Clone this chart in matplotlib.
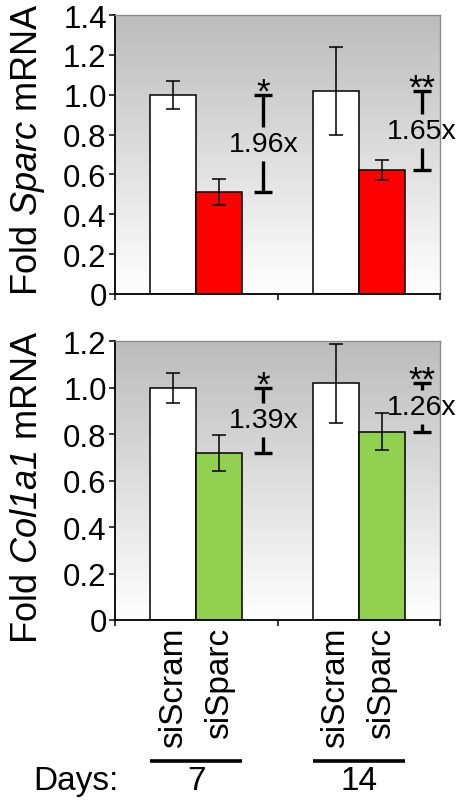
import numpy as np
import matplotlib
matplotlib.use("Agg")
import matplotlib.pyplot as plt
from matplotlib.colors import LinearSegmentedColormap

plt.rcParams["font.family"] = ["Liberation Sans", "DejaVu Sans"]
plt.rcParams["mathtext.fontset"] = "custom"
plt.rcParams["mathtext.rm"] = "Liberation Sans"
plt.rcParams["mathtext.it"] = "Liberation Sans:italic"
# the sans-serif slot holds italic so gene names keep italic digits too
plt.rcParams["mathtext.sf"] = "Liberation Sans:italic"

# Data
days = ["7", "14"]
conditions = ["siScram", "siSparc"]

sparc_scram = [1.00, 1.02]
sparc_scram_err = [0.07, 0.22]
sparc_kd = [0.51, 0.62]
sparc_kd_err = [0.065, 0.05]
sparc_fold = ["1.96x", "1.65x"]
sparc_sig = ["*", "**"]

col_scram = [1.00, 1.02]
col_scram_err = [0.065, 0.17]
col_kd = [0.72, 0.81]
col_kd_err = [0.077, 0.08]
col_fold = ["1.39x", "1.26x"]
col_sig = ["*", "**"]

W, H = 458, 803
DPI = 100
fig = plt.figure(figsize=(W / DPI, H / DPI), dpi=DPI)

ax_left, ax_w = 115 / W, 325 / W
ax1 = fig.add_axes([ax_left, 1 - 295 / H, ax_w, 279 / H])
ax2 = fig.add_axes([ax_left, 1 - 621 / H, ax_w, 278.7 / H])

bg_cmap = LinearSegmentedColormap.from_list("bg", ["#ffffff", "#bcbcbc"])
bar_w = 0.283
x = np.arange(len(days))


def panel(ax, ymax, scram, scram_err, kd, kd_err, kd_color, fold, sig,
          bracket_dx, ylabel, ylabel_y):
    ax.set_xlim(-0.5, 1.5)
    ax.set_ylim(0, ymax)
    grad = np.linspace(0, 1, 256).reshape(-1, 1)
    ax.imshow(grad, cmap=bg_cmap, aspect="auto", origin="lower",
              extent=[0, 1, 0, 1], transform=ax.transAxes, zorder=0)

    ekw = dict(ecolor="black", elinewidth=1.1, capsize=5, capthick=1.1)
    ax.bar(x - bar_w / 2, scram, bar_w, color="white", edgecolor="black",
           linewidth=1.1, yerr=scram_err, error_kw=ekw, zorder=2)
    ax.bar(x + bar_w / 2, kd, bar_w, color=kd_color, edgecolor="black",
           linewidth=1.1, yerr=kd_err, error_kw=ekw, zorder=2)

    # fold-change brackets: capped line from control to knockdown level,
    # broken in the middle for the ratio label
    ax_h_px = ax.get_position().height * H
    per_px = ymax / ax_h_px
    half_gap = 17 * per_px
    cap = 0.055
    for i in range(len(days)):
        bx = x[i] + bracket_dx[i]
        top, bot = scram[i], kd[i]
        mid = (top + bot) / 2
        kw = dict(color="black", lw=2.4, solid_capstyle="butt",
                  clip_on=False, zorder=4)
        if mid + half_gap < top:
            ax.plot([bx, bx], [top, mid + half_gap], **kw)
        if mid - half_gap > bot:
            ax.plot([bx, bx], [mid - half_gap, bot], **kw)
        ax.plot([bx - cap, bx + cap], [top, top], **kw)
        ax.plot([bx - cap, bx + cap], [bot, bot], **kw)
        ax.text(bx, mid, fold[i], ha="center", va="center", fontsize=20.5,
                zorder=5, clip_on=False)
        ax.annotate(sig[i], (bx, top), xytext=(0, -5),
                    textcoords="offset points", ha="center", va="baseline",
                    fontsize=25, annotation_clip=False, zorder=5)

    ax.set_yticks(np.arange(0, ymax + 0.001, 0.2))
    ax.set_yticklabels(["0"] + [f"{v:.1f}" for v in np.arange(0.2, ymax + 0.001, 0.2)],
                       fontsize=22.5)
    ax.set_xticks([-0.5, 0.5, 1.5])
    ax.set_xticklabels([])
    ax.tick_params(axis="y", direction="out", length=4, width=1.1, pad=2)
    ax.tick_params(axis="x", direction="out", length=4, width=1.1)
    for s in ("left", "bottom"):
        ax.spines[s].set_color("black")
        ax.spines[s].set_linewidth(1.3)
    for s in ("top", "right"):
        ax.spines[s].set_color("#8c8c8c")
        ax.spines[s].set_linewidth(1.0)
    fig.text(28 / W, ylabel_y, ylabel, rotation=90, ha="center", va="center",
             fontsize=26)


panel(ax1, 1.4, sparc_scram, sparc_scram_err, sparc_kd, sparc_kd_err,
      "#ff0000", sparc_fold, sparc_sig, [0.413, 0.387],
      r"Fold $\mathsf{Sparc}$ mRNA", 1 - 149 / H)
panel(ax2, 1.2, col_scram, col_scram_err, col_kd, col_kd_err,
      "#92d050", col_fold, col_sig, [0.413, 0.387],
      r"Fold $\mathsf{Col1a1}$ mRNA", 1 - 487 / H)

# Condition labels, day underlines and day numbers
for i in range(len(days)):
    for j, cond in enumerate(conditions):
        bx = x[i] + (j - 0.5) * bar_w
        ax2.annotate(cond, (bx, 0), xycoords=("data", "axes fraction"),
                     xytext=(0, -5), textcoords="offset points",
                     ha="center", va="top", rotation=90, fontsize=24,
                     annotation_clip=False)
    ax2.plot([x[i] - bar_w, x[i] + bar_w], [-0.505, -0.505],
             transform=ax2.get_xaxis_transform(), color="black", lw=2.6,
             clip_on=False, solid_capstyle="butt")
    ax2.text(x[i], -0.577, days[i], transform=ax2.get_xaxis_transform(),
             ha="center", va="center", fontsize=24)
ax2.text(0.01, -0.577, "Days:", transform=ax2.transAxes, ha="right",
         va="center", fontsize=24)

fig.savefig("out.png", dpi=DPI)
